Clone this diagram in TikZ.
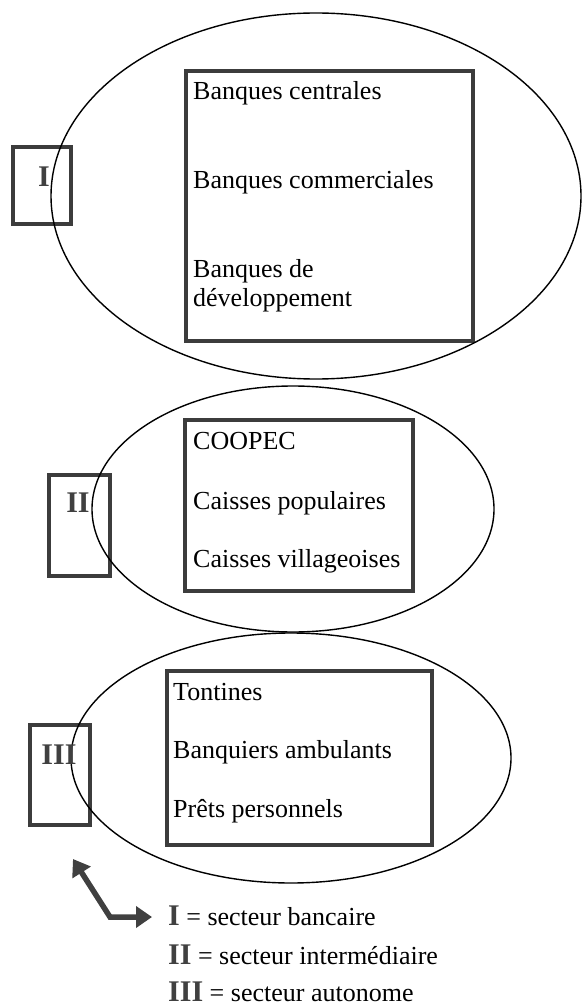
\documentclass[tikz,border=0pt]{standalone}
\usepackage{fontspec}
\setmainfont{Liberation Serif}
\usetikzlibrary{shapes.geometric,arrows.meta}
\definecolor{boxgray}{HTML}{3C3C3C}
\definecolor{numgray}{HTML}{404040}
\begin{document}
\begin{tikzpicture}[x=1pt,y=-1pt,
  oval/.style={draw=black,line width=1.4pt,ellipse,inner sep=0pt},
  listbox/.style={draw=boxgray,line width=4.5pt,rectangle,inner sep=0pt},
  item/.style={anchor=base west,inner sep=0pt,font=\fontsize{26}{29}\selectfont},
  roman/.style={inner sep=0pt,text=numgray,font=\fontsize{30}{32}\selectfont\bfseries},
  legend/.style={anchor=base west,inner sep=0pt,font=\fontsize{26}{29}\selectfont},
  bigarrow/.style={draw=numgray,line width=5.5pt,line join=miter,
    {Triangle[width=21pt,length=16pt]}-{Triangle[width=21pt,length=16pt]}}]
\useasboundingbox (0,0) rectangle (581,1008);
% boxes
\node[listbox,minimum width=287pt,minimum height=270pt] (b1) at (329.5,206) {};
\node[listbox,minimum width=228pt,minimum height=171pt] (b2) at (299,505.5) {};
\node[listbox,minimum width=265pt,minimum height=174pt] (b3) at (299.5,758) {};
\node[listbox,minimum width=58pt,minimum height=77pt] (r1) at (42,185.5) {};
\node[listbox,minimum width=61pt,minimum height=101pt] (r2) at (79.5,525.5) {};
\node[listbox,minimum width=60pt,minimum height=100pt] (r3) at (60,775) {};
% ellipses
\node[oval,minimum width=530pt,minimum height=366pt] (e1) at (316,196) {};
\node[oval,minimum width=402pt,minimum height=246pt] (e2) at (293,509) {};
\node[oval,minimum width=440pt,minimum height=250pt] (e3) at (291,758) {};
% roman labels
\node[roman] (n1) at (44,177) {I};
\node[roman] (n2) at (78,503) {II};
\node[roman] (n3) at (59,755) {III};
% box texts
\node[item] (t11) at (193,100) {Banques centrales};
\node[item] (t12) at (193,189) {Banques commerciales};
\node[item] (t13) at (193,277) {Banques de};
\node[item] (t14) at (193,306) {développement};
\node[item] (t21) at (193,449) {COOPEC};
\node[item] (t22) at (193,509) {Caisses populaires};
\node[item] (t23) at (193,567) {Caisses villageoises};
\node[item] (t31) at (173,700) {Tontines};
\node[item] (t32) at (173,758) {Banquiers ambulants};
\node[item] (t33) at (173,817) {Prêts personnels};
% arrow
\coordinate (a1) at (73,859);
\coordinate (a2) at (110,917);
\coordinate (a3) at (152,917);
\draw[bigarrow] (a1) -- (a2) -- (a3);
% legend
\node[legend] (l1) at (168,925) {{\fontsize{30}{32}\selectfont\bfseries\color{numgray}I} = secteur bancaire};
\node[legend] (l2) at (168,964) {{\fontsize{30}{32}\selectfont\bfseries\color{numgray}II} = secteur intermédiaire};
\node[legend] (l3) at (168,1001) {{\fontsize{30}{32}\selectfont\bfseries\color{numgray}III} = secteur autonome};
\end{tikzpicture}
\end{document}
